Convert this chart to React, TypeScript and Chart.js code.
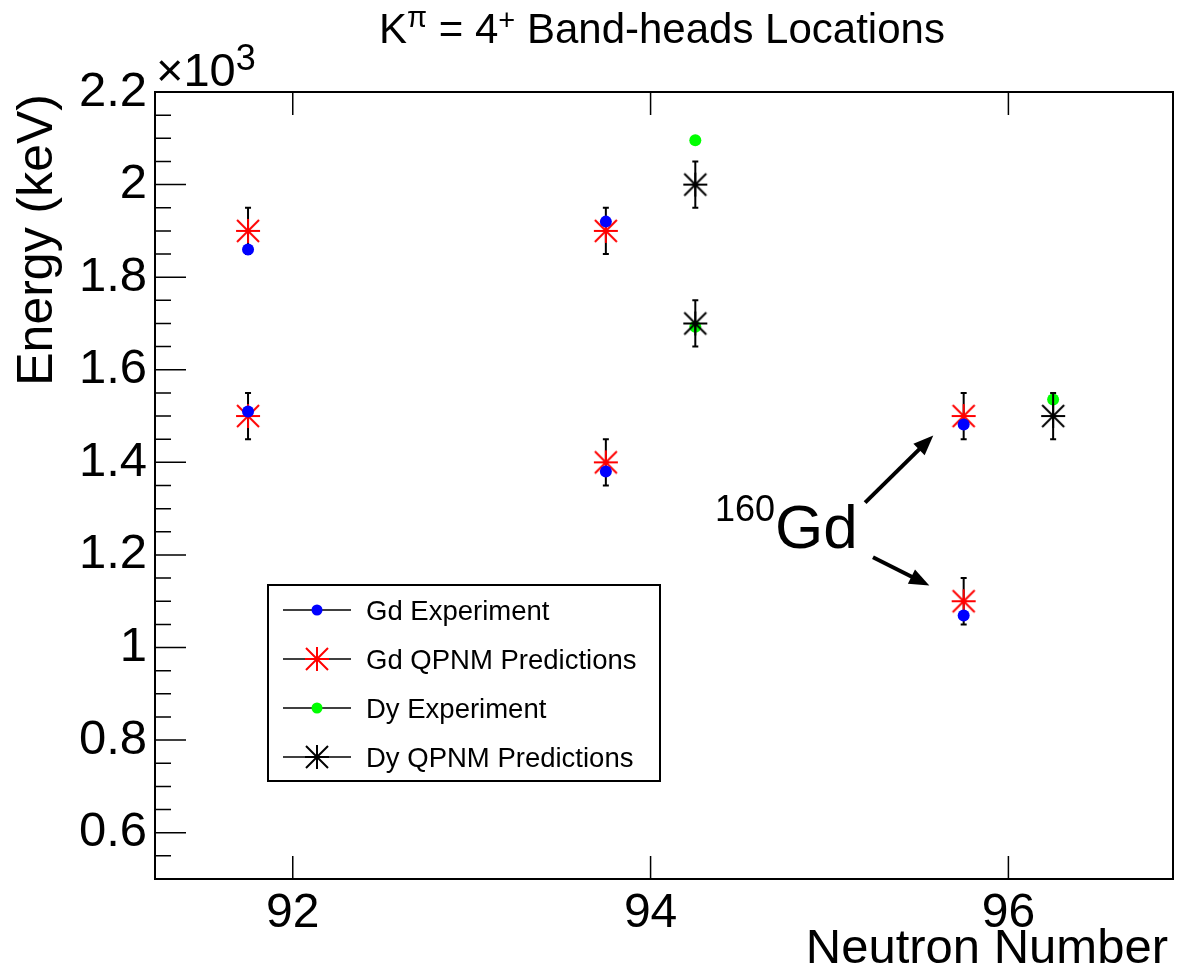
import React, { useEffect, useRef } from 'react';
import { Chart, registerables } from 'chart.js';

Chart.register(...registerables);

const FONT = '"Liberation Sans", Arial, Helvetica, sans-serif';

// ---- data ----
const gdExpX = [91.75, 91.75, 93.75, 93.75, 95.75, 95.75];
const gdExpY = [1860, 1510, 1920, 1380, 1482, 1069];

const gdQpnmX = [91.75, 91.75, 93.75, 93.75, 95.75, 95.75];
const gdQpnmY = [1900, 1500, 1900, 1400, 1500, 1100];
const gdQpnmErr = [50, 50, 50, 50, 50, 50];

const dyExpX = [94.25, 94.25, 96.25];
const dyExpY = [2096, 1693, 1536];

const dyQpnmX = [94.25, 94.25, 96.25];
const dyQpnmY = [2000, 1700, 1500];
const dyQpnmErr = [50, 50, 50];

const seriesNames = ['Gd Experiment', 'Gd QPNM Predictions', 'Dy Experiment', 'Dy QPNM Predictions'];

const xTickValues = [92, 94, 96];
const xTickLabels = ['92', '94', '96'];
const yTickValues = [600, 800, 1000, 1200, 1400, 1600, 1800, 2000, 2200];
const yTickLabels = ['0.6', '0.8', '1', '1.2', '1.4', '1.6', '1.8', '2', '2.2'];

const xMin = 91.23;
const xMax = 96.92;
const yMin = 500;
const yMax = 2200;

// annotation (data coordinates)
const annoText = { x: 94.36, y: 1214, sup: '160', main: 'Gd' };
const annoArrows = [
  { x0: 95.199, y0: 1313, x1: 95.58, y1: 1458 },
  { x0: 95.243, y0: 1195, x1: 95.558, y1: 1134 },
];

function pts(xs: number[], ys: number[]) {
  return xs.map((x, i) => ({ x, y: ys[i] }));
}

function makeStar(color: string): HTMLCanvasElement {
  const c = document.createElement('canvas');
  c.width = 26;
  c.height = 26;
  const g = c.getContext('2d')!;
  g.strokeStyle = color;
  g.lineWidth = 2;
  g.beginPath();
  g.moveTo(1, 13); g.lineTo(25, 13);
  g.moveTo(13, 1); g.lineTo(13, 25);
  g.moveTo(2, 2); g.lineTo(24, 24);
  g.moveTo(24, 2); g.lineTo(2, 24);
  g.stroke();
  return c;
}

function drawRich(ctx: CanvasRenderingContext2D, x: number, y: number, parts: { t: string; s: number; dy: number }[], align: 'left' | 'center') {
  let total = 0;
  for (const p of parts) {
    ctx.font = `${p.s}px ${FONT}`;
    total += ctx.measureText(p.t).width;
  }
  let cx = align === 'center' ? x - total / 2 : x;
  ctx.textAlign = 'left';
  ctx.textBaseline = 'alphabetic';
  for (const p of parts) {
    ctx.font = `${p.s}px ${FONT}`;
    ctx.fillText(p.t, cx, y + p.dy);
    cx += ctx.measureText(p.t).width;
  }
}

export default function App() {
  const ref = useRef<HTMLCanvasElement | null>(null);

  useEffect(() => {
    const canvas = ref.current;
    if (!canvas) return;
    const redStar = makeStar('#ff0000');
    const blackStar = makeStar('#000000');

    const rootPlugin = {
      id: 'rootStyle',
      beforeDatasetDraw(chart: any, args: any) {
        const ds = chart.data.datasets[args.index];
        if (!ds.errors) return;
        const ctx = chart.ctx;
        const ys = chart.scales.y;
        ctx.save();
        ctx.strokeStyle = '#000';
        ctx.lineWidth = 2;
        args.meta.data.forEach((el: any, i: number) => {
          const v = ds.data[i].y;
          const e = ds.errors[i];
          const yt = ys.getPixelForValue(v + e);
          const yb = ys.getPixelForValue(v - e);
          const x = el.x;
          ctx.beginPath();
          ctx.moveTo(x, yt); ctx.lineTo(x, yb);
          ctx.moveTo(x - 3, yt); ctx.lineTo(x + 3, yt);
          ctx.moveTo(x - 3, yb); ctx.lineTo(x + 3, yb);
          ctx.stroke();
        });
        ctx.restore();
      },
      afterDraw(chart: any) {
        const ctx: CanvasRenderingContext2D = chart.ctx;
        const a = chart.chartArea;
        const xs = chart.scales.x;
        const ys = chart.scales.y;
        ctx.save();
        ctx.fillStyle = '#000';
        ctx.strokeStyle = '#000';

        // frame
        ctx.lineWidth = 2;
        ctx.strokeRect(a.left, a.top, a.right - a.left, a.bottom - a.top);

        // y ticks (major + minor)
        ctx.lineWidth = 1.5;
        ctx.beginPath();
        for (let v = yMin; v <= yMax + 0.01; v += 50) {
          const y = ys.getPixelForValue(v);
          const major = yTickValues.includes(v);
          ctx.moveTo(a.left, y);
          ctx.lineTo(a.left + (major ? 31 : 16), y);
        }
        // x ticks (bottom + top)
        for (const v of xTickValues) {
          const x = xs.getPixelForValue(v);
          ctx.moveTo(x, a.bottom); ctx.lineTo(x, a.bottom - 23);
          ctx.moveTo(x, a.top); ctx.lineTo(x, a.top + 23);
        }
        ctx.stroke();

        // title
        drawRich(ctx, (a.left + a.right) / 2 - 2, 43, [
          { t: 'K', s: 42, dy: 0 },
          { t: 'π', s: 29, dy: -16 },
          { t: ' = 4', s: 42, dy: 0 },
          { t: '+', s: 29, dy: -13 },
          { t: ' Band-heads Locations', s: 42, dy: 0 },
        ], 'center');

        // x10^3
        drawRich(ctx, a.left + 1, 86, [
          { t: '×10', s: 47, dy: 0 },
          { t: '3', s: 36, dy: -16 },
        ], 'left');

        // axis titles
        ctx.font = `49px ${FONT}`;
        ctx.textAlign = 'right';
        ctx.textBaseline = 'alphabetic';
        ctx.fillText('Neutron Number', a.right - 5, 963);
        ctx.save();
        ctx.translate(52, a.top + 2);
        ctx.rotate(-Math.PI / 2);
        ctx.textAlign = 'right';
        ctx.font = `50px ${FONT}`;
        ctx.fillText('Energy (keV)', 0, 0);
        ctx.restore();

        // legend
        const lx = 268, ly = 585, lw = 392, lh = 196;
        ctx.fillStyle = '#fff';
        ctx.fillRect(lx, ly, lw, lh);
        ctx.fillStyle = '#000';
        ctx.lineWidth = 2;
        ctx.strokeRect(lx, ly, lw, lh);
        const rows = [610, 659, 708, 757];
        const markers = [
          { kind: 'dot', color: '#0000ff' },
          { kind: 'star', img: redStar },
          { kind: 'dot', color: '#00ff00' },
          { kind: 'star', img: blackStar },
        ];
        seriesNames.forEach((name, i) => {
          const ry = rows[i];
          ctx.lineWidth = 1.5;
          ctx.strokeStyle = '#000';
          ctx.beginPath();
          ctx.moveTo(283, ry); ctx.lineTo(351, ry);
          ctx.stroke();
          const m: any = markers[i];
          if (m.kind === 'dot') {
            ctx.fillStyle = m.color;
            ctx.beginPath();
            ctx.arc(317, ry, 5.5, 0, Math.PI * 2);
            ctx.fill();
          } else {
            ctx.drawImage(m.img, 317 - 13, ry - 13);
          }
          ctx.fillStyle = '#000';
          ctx.font = `27.5px ${FONT}`;
          ctx.textAlign = 'left';
          ctx.textBaseline = 'alphabetic';
          ctx.fillText(name, 366, ry + 10);
        });

        // annotation
        const tx = xs.getPixelForValue(annoText.x);
        const ty = ys.getPixelForValue(annoText.y);
        ctx.fillStyle = '#000';
        drawRich(ctx, tx, ty, [
          { t: annoText.sup, s: 36, dy: -27 },
          { t: annoText.main, s: 62, dy: 0 },
        ], 'left');

        for (const ar of annoArrows) {
          const x0 = xs.getPixelForValue(ar.x0), y0 = ys.getPixelForValue(ar.y0);
          const x1 = xs.getPixelForValue(ar.x1), y1 = ys.getPixelForValue(ar.y1);
          const dx = x1 - x0, dy = y1 - y0;
          const len = Math.hypot(dx, dy);
          const ux = dx / len, uy = dy / len;
          const hl = 20, hw = 8;
          const bx = x1 - ux * hl, by = y1 - uy * hl;
          ctx.lineWidth = 4;
          ctx.beginPath();
          ctx.moveTo(x0, y0); ctx.lineTo(bx + ux * 2, by + uy * 2);
          ctx.stroke();
          ctx.beginPath();
          ctx.moveTo(x1, y1);
          ctx.lineTo(bx - uy * hw, by + ux * hw);
          ctx.lineTo(bx + uy * hw, by - ux * hw);
          ctx.closePath();
          ctx.fill();
        }
        ctx.restore();
      },
    };

    const chart = new Chart(canvas, {
      type: 'scatter',
      data: {
        datasets: [
          {
            label: seriesNames[0],
            data: pts(gdExpX, gdExpY),
            pointStyle: 'circle',
            pointRadius: 6,
            pointBackgroundColor: '#0000ff',
            pointBorderWidth: 0,
            borderColor: '#0000ff',
            order: 2,
          },
          {
            label: seriesNames[1],
            data: pts(gdQpnmX, gdQpnmY),
            errors: gdQpnmErr,
            pointStyle: redStar,
            pointRadius: 12,
            order: 3,
          } as any,
          {
            label: seriesNames[2],
            data: pts(dyExpX, dyExpY),
            pointStyle: 'circle',
            pointRadius: 6,
            pointBackgroundColor: '#00ff00',
            pointBorderWidth: 0,
            borderColor: '#00ff00',
            order: 1,
          },
          {
            label: seriesNames[3],
            data: pts(dyQpnmX, dyQpnmY),
            errors: dyQpnmErr,
            pointStyle: blackStar,
            pointRadius: 12,
            order: 0,
          } as any,
        ],
      },
      options: {
        animation: false,
        responsive: false,
        devicePixelRatio: 1,
        layout: { padding: { left: 0, right: 2, top: 92, bottom: 0 } },
        plugins: { legend: { display: false }, tooltip: { enabled: false }, title: { display: false } },
        scales: {
          x: {
            type: 'linear',
            min: xMin,
            max: xMax,
            afterBuildTicks: (s: any) => { s.ticks = xTickValues.map((v) => ({ value: v })); },
            afterFit: (s: any) => { s.height = 92; },
            ticks: {
              callback: (v: any) => xTickLabels[xTickValues.indexOf(Number(v))] ?? '',
              font: { family: FONT, size: 48 },
              color: '#000',
              padding: 6,
              autoSkip: false,
              maxRotation: 0,
              minRotation: 0,
            },
            grid: { display: false, drawTicks: false },
            border: { display: false },
          },
          y: {
            type: 'linear',
            min: yMin,
            max: yMax,
            afterBuildTicks: (s: any) => { s.ticks = yTickValues.map((v) => ({ value: v })); },
            afterFit: (s: any) => { s.width = 155; },
            ticks: {
              callback: (v: any) => yTickLabels[yTickValues.indexOf(Number(v))] ?? '',
              font: { family: FONT, size: 49 },
              color: '#000',
              padding: 8,
              autoSkip: false,
            },
            grid: { display: false, drawTicks: false },
            border: { display: false },
          },
        },
      } as any,
      plugins: [rootPlugin],
    });
    return () => chart.destroy();
  }, []);

  return (
    <div style={{ position: 'absolute', left: 0, top: 0, width: 1186, height: 971, background: '#fff' }}>
      <canvas ref={ref} width={1186} height={971} style={{ display: 'block', width: 1186, height: 971 }} />
    </div>
  );
}
